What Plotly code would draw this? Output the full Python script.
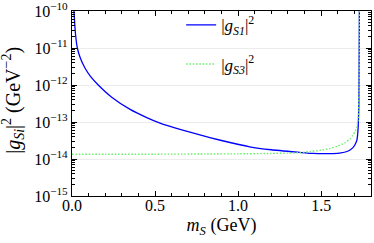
import plotly.graph_objects as go

# ---- data ----
ms_s1 = [0.012, 0.018, 0.024, 0.032, 0.05, 0.078, 0.11, 0.158, 0.239, 0.35, 0.45, 0.53,
         0.65, 0.77, 0.9, 1.07, 1.2, 1.37, 1.45, 1.55, 1.61, 1.66, 1.69, 1.705,
         1.715, 1.722, 1.727, 1.73]
log_g_s1 = [-10.0, -10.46, -10.75, -11.0, -11.27, -11.54, -11.76, -12.0, -12.33, -12.66,
            -12.88, -13.03, -13.2, -13.35, -13.5, -13.67, -13.75, -13.82, -13.85, -13.855,
            -13.84, -13.79, -13.7, -13.6, -13.49, -13.2, -12.5, -10.0]

ms_s3 = [0.0, 0.2, 0.5, 0.8, 1.0, 1.2, 1.3, 1.37, 1.43, 1.5, 1.55, 1.6, 1.64, 1.675,
         1.69, 1.705, 1.715, 1.723, 1.728, 1.73]
log_g_s3 = [-13.87, -13.87, -13.87, -13.865, -13.86, -13.85, -13.84, -13.83, -13.8,
            -13.76, -13.72, -13.65, -13.57, -13.45, -13.36, -13.25, -13.13, -12.9,
            -12.0, -10.0]

x_range = [0, 1.8]
y_decades = [-15, -14, -13, -12, -11, -10]
x_major = [0.0, 0.5, 1.0, 1.5]
x_labels = ["0.0", "0.5", "1.0", "1.5"]

g_s1 = [10 ** v for v in log_g_s1]
g_s3 = [10 ** v for v in log_g_s3]

FONT = "Liberation Serif"

fig = go.Figure()
fig.add_trace(go.Scatter(
    x=ms_s1, y=g_s1, mode="lines", line=dict(color="#0000ff", width=1.3, shape="spline", smoothing=0.5),
    name="|<i>g</i><sub><i>S1</i></sub>|<sup>2</sup>", legendgroup="a"))
fig.add_trace(go.Scatter(
    x=ms_s3, y=g_s3, mode="lines", line=dict(color="#66ee66", width=1.4, dash="1.5px,1.8px", shape="spline", smoothing=0.5),
    name="|<i>g</i><sub><i>S3</i></sub>|<sup>2</sup>", legendgroup="b"))

y_tickvals = [10 ** d for d in y_decades]
y_ticktext = ["10<sup>−%d</sup>" % (-d) for d in y_decades]
y_minor = [k * 10 ** d for d in y_decades[:-1] for k in range(2, 10)]
x_minor = [i / 10 for i in range(0, 19)]

fig.update_layout(
    width=374, height=243,
    margin=dict(l=72, r=3, t=11, b=47, autoexpand=False),
    paper_bgcolor="white", plot_bgcolor="white",
    font=dict(family=FONT, size=16, color="black"),
    showlegend=True,
    legend=dict(x=0.365, y=1.02, xanchor="left", yanchor="top", bgcolor="rgba(0,0,0,0)",
                font=dict(size=17, family=FONT), tracegroupgap=14, itemwidth=30,
                traceorder="grouped"),
    annotations=[dict(
        text="|<i>g</i><sub><i>Si</i></sub>|<sup>2</sup> (GeV<sup>−2</sup>)",
        xref="paper", yref="paper", x=-0.197, y=0.515, xanchor="center", yanchor="middle",
        textangle=-90, showarrow=False, font=dict(size=20, family=FONT))],
)
fig.update_xaxes(
    range=x_range, showgrid=False, zeroline=False, automargin=False,
    showline=True, linecolor="black", linewidth=1.2, mirror="allticks",
    ticks="inside", ticklen=5, tickcolor="black", ticklabeloverflow="allow",
    ticklabelstandoff=-5,
    tickmode="array", tickvals=x_major, ticktext=x_labels,
    tickfont=dict(size=16, family=FONT),
    minor=dict(tickmode="array", tickvals=x_minor, ticks="inside", ticklen=3, tickcolor="black", showgrid=False),
    title=dict(text="<i>m</i><sub><i>S</i></sub> (GeV)", font=dict(size=18, family=FONT), standoff=5),
)
fig.update_yaxes(
    type="log", range=[-15, -10], automargin=False,
    showgrid=True, gridcolor="#ececec", gridwidth=1, zeroline=False,
    showline=True, linecolor="black", linewidth=1.2, mirror="allticks",
    ticks="inside", ticklen=5, tickcolor="black", ticklabeloverflow="allow",
    tickmode="array", tickvals=y_tickvals, ticktext=y_ticktext,
    tickfont=dict(size=16, family=FONT),
    minor=dict(tickmode="array", tickvals=y_minor, ticks="inside", ticklen=3, tickcolor="black", showgrid=False),
)

fig.write_html("out.html", config={"displayModeBar": False},
               post_script="document.body.style.margin='0px';document.body.style.padding='0px';")
